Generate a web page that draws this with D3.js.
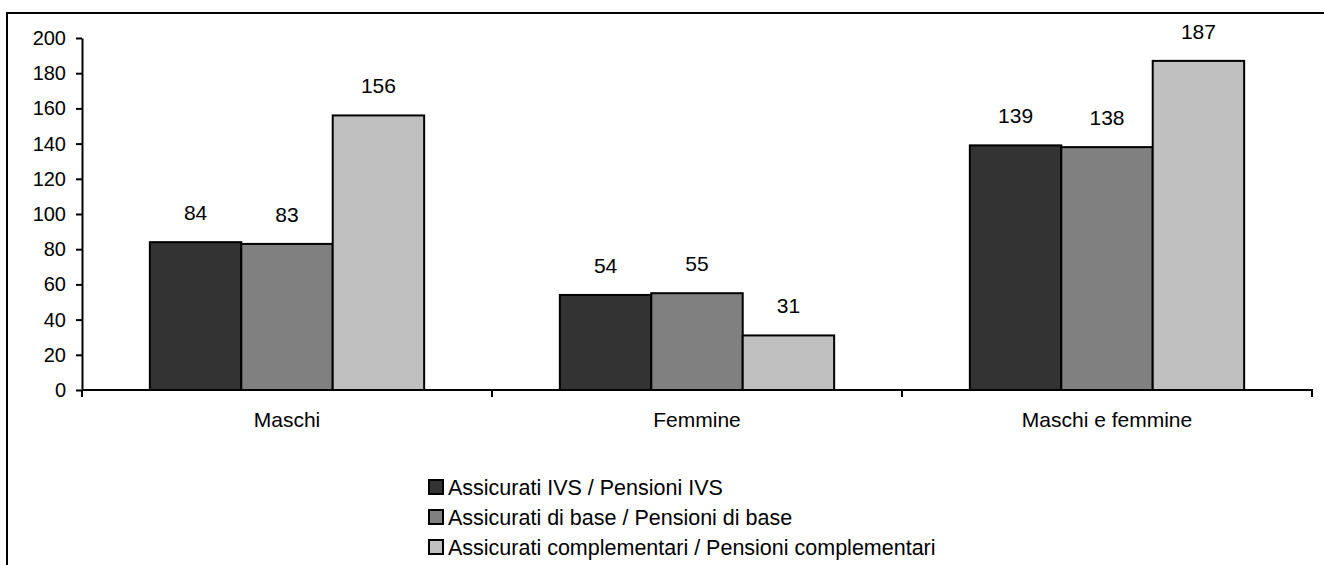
<!DOCTYPE html>
<html><head><meta charset="utf-8">
<script src="https://cdn.jsdelivr.net/npm/d3@7"></script>
<style>body{margin:0;background:#fff;} svg{display:block;font-family:"Liberation Sans",Arial,sans-serif;}</style>
</head><body>
<svg id="chart" width="1324" height="565"></svg>
<script>
const categories = ["Maschi", "Femmine", "Maschi e femmine"];
const seriesNames = ["Assicurati IVS / Pensioni IVS", "Assicurati di base / Pensioni di base", "Assicurati complementari / Pensioni complementari"];
const ivs = [84, 54, 139];
const base = [83, 55, 138];
const compl = [156, 31, 187];
const yTicks = [0, 20, 40, 60, 80, 100, 120, 140, 160, 180, 200];
const colors = ["#333333", "#808080", "#c0c0c0"];

const seriesValues = [ivs, base, compl];
const svg = d3.select("#chart");
const fsTick = 20, fsLabel = 21, fsLegend = 21.5;

// outer frame (cropped at right and bottom)
svg.append("rect").attr("x", 7).attr("y", 13).attr("width", 1340).attr("height", 600)
  .attr("fill", "none").attr("stroke", "#000").attr("stroke-width", 2);

const x0 = d3.scaleBand().domain(categories).range([82, 1312]).padding(0);
const x1 = d3.scaleBand().domain(d3.range(3)).range([0, x0.bandwidth()]).paddingInner(0).paddingOuter(0.742);
const y = d3.scaleLinear().domain([0, 200]).range([390, 38]);

// bars
categories.forEach((c, ci) => {
  const g = svg.append("g").attr("transform", `translate(${x0(c)},0)`);
  seriesValues.forEach((vals, si) => {
    g.append("rect")
      .attr("x", x1(si)).attr("y", y(vals[ci]))
      .attr("width", x1.bandwidth()).attr("height", y(0) - y(vals[ci]))
      .attr("fill", colors[si]).attr("stroke", "#000").attr("stroke-width", 2);
    g.append("text")
      .attr("x", x1(si) + x1.bandwidth() / 2).attr("y", y(vals[ci]) - 22)
      .attr("text-anchor", "middle").attr("font-size", fsLabel).attr("fill", "#000")
      .text(vals[ci]);
  });
});

// y axis
const yAxis = d3.axisLeft(y).tickValues(yTicks).tickSize(6).tickPadding(10).tickSizeOuter(0);
const ya = svg.append("g").attr("transform", "translate(82,0)").call(yAxis);
ya.select(".domain").attr("stroke-width", 2);
ya.selectAll(".tick line").attr("stroke-width", 2);
ya.selectAll("text").attr("font-size", fsTick).attr("font-family", "Liberation Sans, Arial, sans-serif").attr("fill", "#000");

// x axis line
svg.append("line").attr("x1", 82).attr("x2", 1313).attr("y1", y(0)).attr("y2", y(0))
  .attr("stroke", "#000").attr("stroke-width", 2);
// category separator ticks
const sepTicks = [x0.range()[0]].concat(categories.map(c => x0(c) + x0.bandwidth()));
svg.selectAll(".sep").data(sepTicks).enter().append("line")
  .attr("x1", d => d).attr("x2", d => d).attr("y1", y(0)).attr("y2", y(0) + 7)
  .attr("stroke", "#000").attr("stroke-width", 2);
// category labels
svg.selectAll(".cat").data(categories).enter().append("text")
  .attr("x", d => x0(d) + x0.bandwidth() / 2).attr("y", 427)
  .attr("text-anchor", "middle").attr("font-size", fsLabel).attr("fill", "#000")
  .text(d => d);

// legend
const lg = svg.append("g").attr("transform", "translate(429,480)");
seriesNames.forEach((n, i) => {
  lg.append("rect").attr("x", 0).attr("y", i * 30).attr("width", 14).attr("height", 14)
    .attr("fill", colors[i]).attr("stroke", "#000").attr("stroke-width", 2);
  lg.append("text").attr("x", 19).attr("y", i * 30 + 14.5).attr("font-size", fsLegend).attr("fill", "#000").text(n);
});
</script>
</body></html>
